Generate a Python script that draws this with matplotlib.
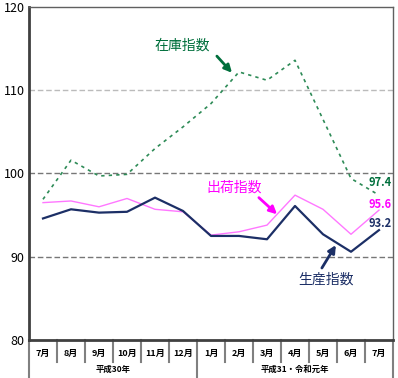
import matplotlib
matplotlib.use('Agg')
from matplotlib import pyplot as plt
from matplotlib.transforms import blended_transform_factory
from matplotlib.lines import Line2D

plt.rcParams['font.family'] = ['Noto Sans CJK JP', 'DejaVu Sans']

months = ['7月', '8月', '9月', '10月', '11月', '12月', '1月', '2月', '3月', '4月', '5月', '6月', '7月']
groups = ['平成30年', '平成31・令和元年']
group_spans = [(0, 5), (6, 12)]

production = [94.6, 95.7, 95.3, 95.4, 97.1, 95.5, 92.5, 92.5, 92.1, 96.1, 92.7, 90.6, 93.2]
shipment = [96.5, 96.7, 96.0, 97.0, 95.7, 95.4, 92.6, 93.0, 93.8, 97.4, 95.7, 92.7, 95.6]
inventory = [96.9, 101.6, 99.7, 99.9, 103.0, 105.6, 108.4, 112.2, 111.2, 113.6, 106.5, 99.4, 97.4]

c_prod = '#1c2f66'
c_ship = '#ff77ff'
c_ship_txt = '#ff00ff'
c_inv = '#2e8b57'
c_inv_txt = '#006f3c'

fig = plt.figure(figsize=(3.98, 3.78), dpi=100)
ax = fig.add_axes([29 / 398, 1 - 340 / 378, 364 / 398, 333 / 378])

x = list(range(len(months)))
ax.plot(x, inventory, color=c_inv, lw=1.2, ls=(0, (2, 2.5)))
ax.plot(x, shipment, color=c_ship, lw=1.0)
ax.plot(x, production, color=c_prod, lw=1.6)

ax.set_xlim(-0.5, 12.5)
ax.set_ylim(80, 120)
ax.set_yticks([80, 90, 100, 110, 120])
ax.tick_params(axis='y', length=0, labelsize=9, pad=3)
for v, c in [(90, '#777777'), (100, '#777777'), (110, '#bbbbbb')]:
    ax.axhline(v, color=c, lw=1, ls=(0, (4, 2)), zorder=0)

for s in ['left', 'bottom']:
    ax.spines[s].set_linewidth(2)
    ax.spines[s].set_color('#404040')
for s in ['top', 'right']:
    ax.spines[s].set_linewidth(1)
    ax.spines[s].set_color('#606060')

ax.set_xticks(x)
ax.set_xticklabels([])
ax.tick_params(axis='x', length=0)

tr = blended_transform_factory(ax.transData, ax.transAxes)
for i, m in enumerate(months):
    ax.text(i, -0.04, m, transform=tr, ha='center', va='center',
            fontsize=6.5, fontweight='bold')
for b in [i - 0.5 for i in range(len(months) + 1)]:
    long = b in (-0.5, 5.5, 12.5)
    ax.add_line(Line2D([b, b], [0, -0.115 if long else -0.065], transform=tr,
                       color='#808080', lw=1.5, clip_on=False))
for g, (a, b) in zip(groups, group_spans):
    ax.text((a + b) / 2, -0.087, g, transform=tr, ha='center', va='center',
            fontsize=6, fontweight='bold')

arrow = dict(arrowstyle='-|>', lw=2, mutation_scale=11, shrinkA=0, shrinkB=0)
labels = [
    ('在庫指数', (4.96, 115.4), (6.21, 114.1), (6.75, 112.1), c_inv_txt),
    ('出荷指数', (6.82, 98.3), (7.71, 97.1), (8.36, 95.1), c_ship_txt),
    ('生産指数', (10.1, 87.2), (9.96, 88.65), (10.46, 91.4), c_prod),
]
for txt, pos, tail, head, c in labels:
    ax.text(pos[0], pos[1], txt, color=c, fontsize=10, ha='center', va='center')
    ax.annotate('', xy=head, xytext=tail, arrowprops=dict(arrow, color=c))

for val, y, c in [(inventory[-1], 98.9, c_inv_txt), (shipment[-1], 96.3, c_ship_txt),
                  (production[-1], 94.05, c_prod)]:
    ax.text(12.45, y, f'{val:.1f}', color=c, ha='right', va='center',
            fontsize=8, fontweight='bold')

fig.savefig('out.png', dpi=100)
